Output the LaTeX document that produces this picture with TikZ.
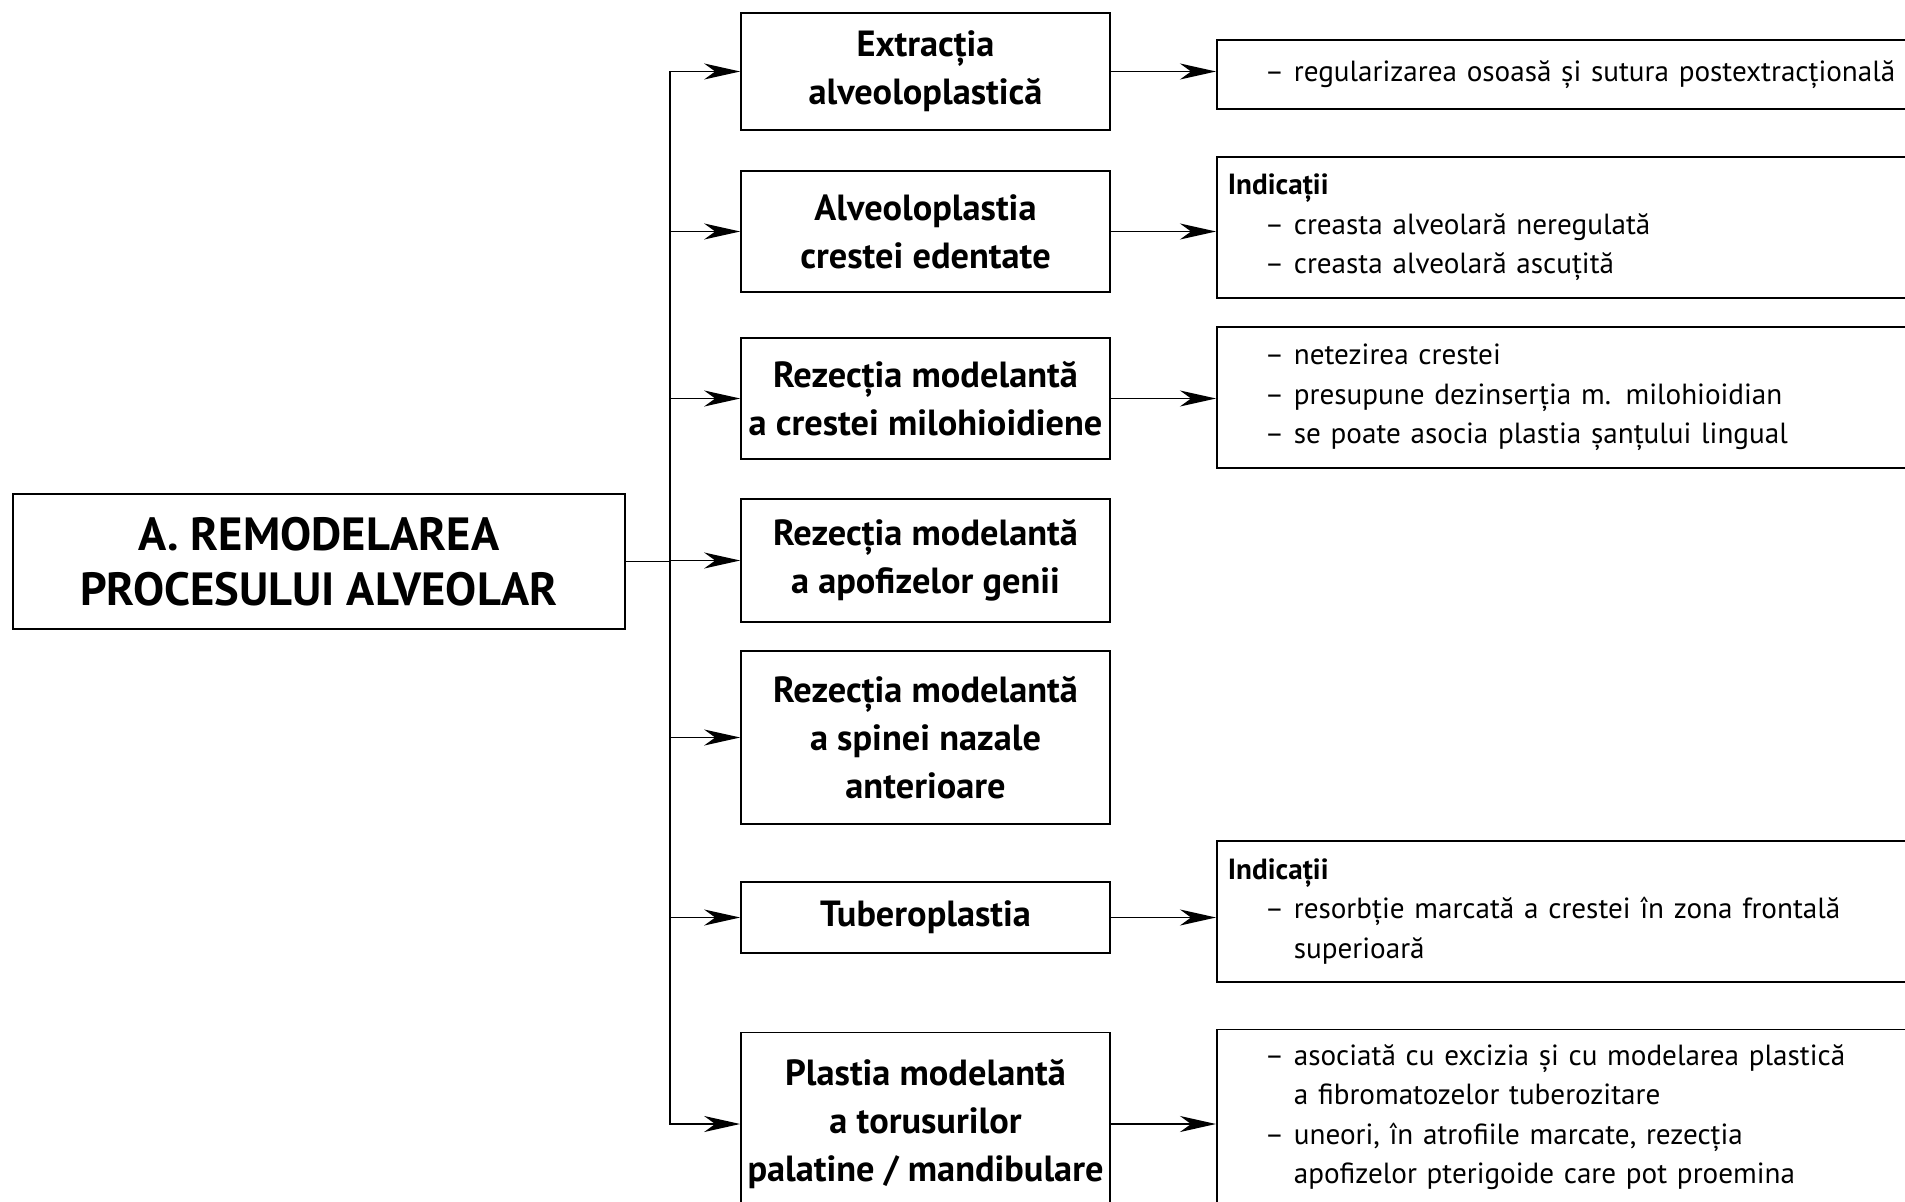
\documentclass[tikz,border=0pt]{standalone}
\usepackage{fontspec}
\setmainfont{PT Sans}
\usetikzlibrary{positioning, arrows.meta}

\newcommand{\dashline}[1]{\hspace*{0.74cm}– #1}
\newcommand{\contline}[1]{\hspace*{0.74cm}\phantom{– }#1}

\begin{document}
\begin{tikzpicture}[x=0.02cm, y=-0.02cm, line width=1pt]
        \tikzset{arr/.style={-{Stealth[length=0.72cm,width=0.32cm,inset=0.22cm]}}}
        % Define attributes for the boxes
        \tikzset{mainbox/.style={draw, align=center, minimum width=12.24cm, minimum height=2.7cm,
            font=\fontsize{26.5}{31.5}\selectfont\bfseries}}
        \tikzset{procbox/.style={draw, align=center, minimum width=7.38cm, inner sep=0pt,
            font=\fontsize{20.7}{27.5}\selectfont\bfseries}}
        \tikzset{notebox/.style={draw, anchor=west, align=left, text width=14cm, inner xsep=0.22cm,
            font=\fontsize{16.6}{22.5}\selectfont}}

        \path[clip, use as bounding box] (0,0) rectangle (1905,1202);

        \node[mainbox] (main) at (319,561.5) {A. REMODELAREA\\PROCESULUI ALVEOLAR};

        \node[procbox, minimum height=2.34cm] (b1) at (925.5,71.5) {Extracția\\alveoloplastică};
        \node[procbox, minimum height=2.42cm] (b2) at (925.5,231.5) {Alveoloplastia\\crestei edentate};
        \node[procbox, minimum height=2.42cm] (b3) at (925.5,398.5) {Rezecția modelantă\\a crestei milohioidiene};
        \node[procbox, minimum height=2.46cm] (b4) at (925.5,560.5) {Rezecția modelantă\\a apofizelor genii};
        \node[procbox, minimum height=3.46cm] (b5) at (925.5,737.5) {Rezecția modelantă\\a spinei nazale\\anterioare};
        \node[procbox, minimum height=1.42cm] (b6) at (925.5,917.5) {Tuberoplastia};
        \node[procbox, minimum height=3.66cm] (b7) at (925.5,1124) {Plastia modelantă\\a torusurilor\\palatine / mandibulare};

        \node[notebox, minimum height=1.38cm] (r1) at (1216,74.5)
            {\dashline{regularizarea osoasă și sutura postextracțională}};
        \node[notebox, minimum height=2.82cm] (r2) at (1216,227.5)
            {\textbf{Indicații}\\\dashline{creasta alveolară neregulată}\\\dashline{creasta alveolară ascuțită}};
        \node[notebox, minimum height=2.82cm] (r3) at (1216,397.5)
            {\dashline{netezirea crestei}\\\dashline{presupune dezinserția m. milohioidian}\\\dashline{se poate asocia plastia șanțului lingual}};
        \node[notebox, minimum height=2.82cm] (r6) at (1216,911.5)
            {\textbf{Indicații}\\\dashline{resorbție marcată a crestei în zona frontală}\\\contline{superioară}};
        \node[notebox, minimum height=3.5cm] (r7) at (1216,1117)
            {\dashline{asociată cu excizia și cu modelarea plastică}\\\contline{a fibromatozelor tuberozitare}\\
             \dashline{uneori, în atrofiile marcate, rezecția}\\\contline{apofizelor pterigoide care pot proemina}};

        \foreach \i in {1,...,7}
            \draw[arr] (main.east) -- ++(44,0) |- (b\i.west);
        \foreach \i in {1,2,3,6,7}
            \draw[arr] (b\i.east) -- (b\i.east -| r\i.west);
    \end{tikzpicture}
\end{document}
